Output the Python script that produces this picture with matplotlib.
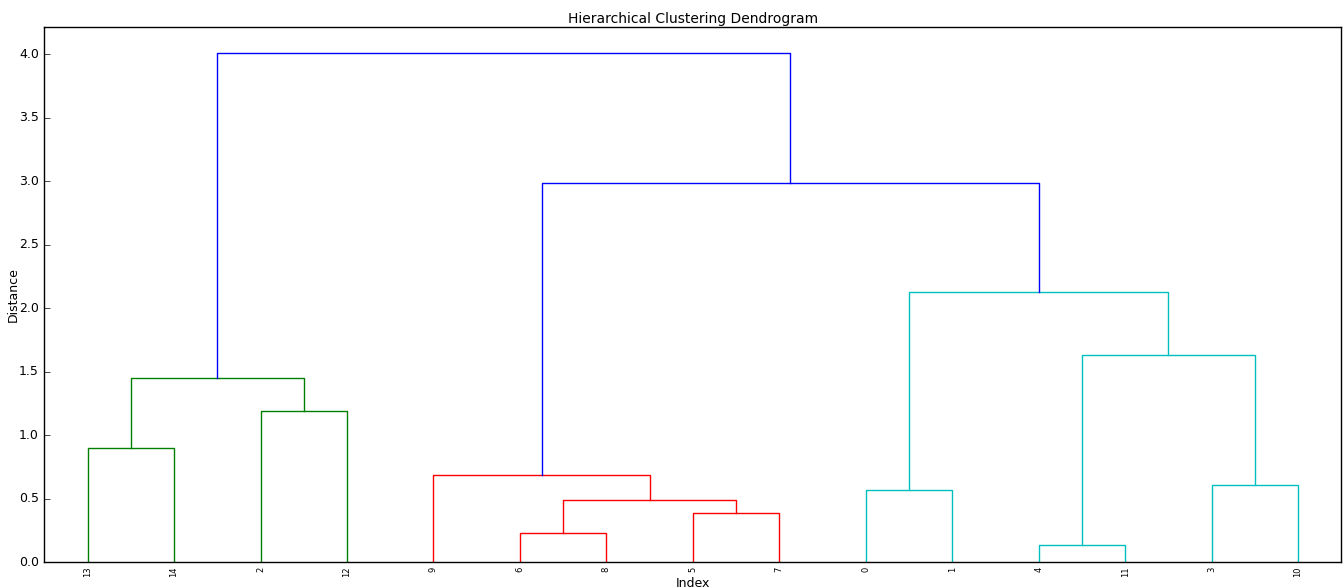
import matplotlib
matplotlib.use("Agg")
import matplotlib.pyplot as plt

plt.style.use("classic")

# linkage: (left child, right child, distance); ids >= 15 are merged clusters
n_leaves = 15
left_ids = [4, 6, 5, 16, 0, 3, 9, 13, 2, 22, 15, 19, 21, 24]
right_ids = [11, 8, 7, 17, 1, 10, 18, 14, 12, 23, 20, 25, 26, 27]
heights = [0.137, 0.232, 0.39, 0.492, 0.572, 0.61, 0.688,
           0.9, 1.19, 1.452, 1.632, 2.132, 2.988, 4.015]
link_colors = ["c", "r", "r", "r", "c", "c", "r",
               "g", "g", "g", "c", "c", "b", "b"]

# walk the tree to get leaf order and x position of every cluster
leaf_order = []
xpos = {}


def place(node):
    if node < n_leaves:
        xpos[node] = 5 + 10 * len(leaf_order)
        leaf_order.append(node)
        return
    k = node - n_leaves
    place(left_ids[k])
    place(right_ids[k])
    xpos[node] = (xpos[left_ids[k]] + xpos[right_ids[k]]) / 2


root = n_leaves + len(heights) - 1
place(root)


def ypos(node):
    return 0.0 if node < n_leaves else heights[node - n_leaves]


fig, ax = plt.subplots(figsize=(13.44, 5.88), dpi=100)
fig.subplots_adjust(left=0.033, right=0.998, top=0.954, bottom=0.044)

for k in range(len(heights)):
    a, b = left_ids[k], right_ids[k]
    h = heights[k]
    ax.plot([xpos[a], xpos[a], xpos[b], xpos[b]],
            [ypos(a), h, h, ypos(b)], color=link_colors[k], lw=1)

ax.set_xlim(0, 10 * n_leaves)
ax.set_ylim(0, max(heights) * 1.05)
ax.set_xticks([5 + 10 * i for i in range(n_leaves)])
ax.set_xticklabels([str(i) for i in leaf_order], rotation=90, fontsize=6)
ax.tick_params(axis="x", length=0, pad=3)
ax.xaxis.set_ticks_position("bottom")
ax.yaxis.set_ticks_position("left")
ax.tick_params(axis="y", labelsize=9)

ax.set_title("Hierarchical Clustering Dendrogram", fontsize=10, pad=3)
ax.set_xlabel("Index", fontsize=9, labelpad=0)
ax.set_ylabel("Distance", fontsize=9, labelpad=-1)

fig.savefig("out.png", dpi=100)
